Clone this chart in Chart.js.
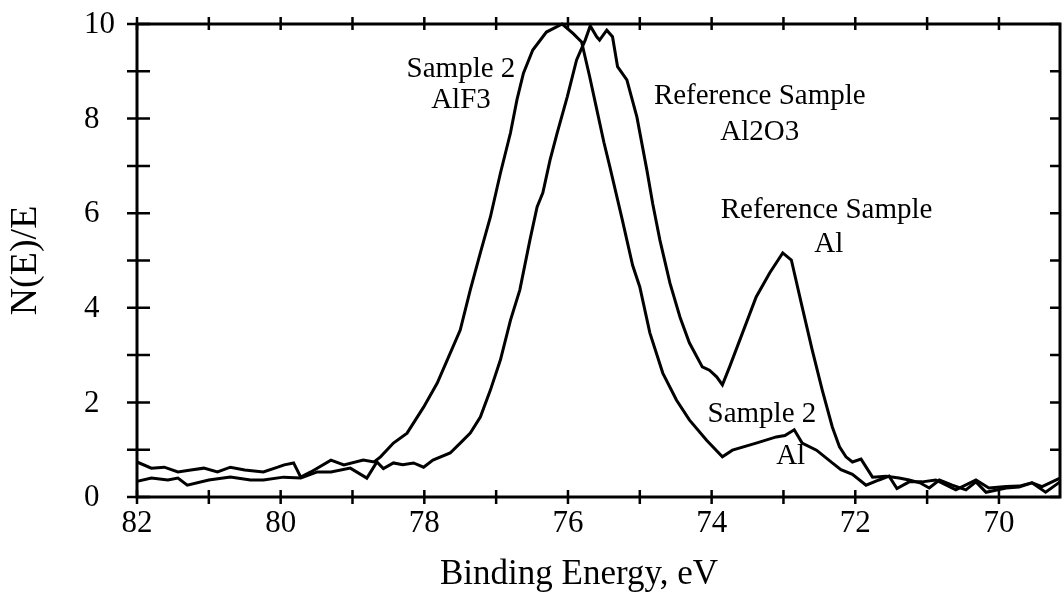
<!DOCTYPE html>
<html>
<head>
<meta charset="utf-8">
<script src="https://cdn.jsdelivr.net/npm/chart.js@4.4.1/dist/chart.umd.min.js"></script>
<style>
  html, body { margin: 0; padding: 0; background: #fff; }
  #wrap { width: 1064px; height: 596px; }
</style>
</head>
<body>
<div id="wrap"><canvas id="xpsChart" width="1064" height="596"></canvas></div>
<script>
// Sample 2 (AlF3 + small Al peak)
const s2Energy = [82.0, 81.8, 81.62, 81.43, 81.25, 81.07, 80.88, 80.7, 80.5, 80.24, 80.04, 79.95, 79.82, 79.72, 79.58,
  79.3, 79.12, 78.85, 78.7, 78.61, 78.43, 78.24, 78.01, 77.82, 77.68, 77.5, 77.36, 77.22, 77.08, 76.94, 76.8, 76.71,
  76.62, 76.49, 76.3, 76.08, 75.93, 75.81, 75.7, 75.6, 75.5, 75.42, 75.25, 75.1, 75.0, 74.86, 74.68, 74.49, 74.31,
  74.07, 73.85, 73.71, 73.38, 73.1, 72.98, 72.85, 72.74, 72.54, 72.32, 72.2, 72.04, 71.85, 71.67, 71.53, 71.42,
  71.25, 71.07, 70.88, 70.6, 70.32, 70.14, 69.9, 69.72, 69.54, 69.4, 69.15];
const s2Signal = [0.74, 0.61, 0.63, 0.53, 0.57, 0.61, 0.53, 0.63, 0.57, 0.53, 0.63, 0.68, 0.72, 0.42, 0.53,
  0.78, 0.68, 0.78, 0.74, 0.85, 1.14, 1.35, 1.9, 2.41, 2.9, 3.53, 4.38, 5.16, 5.92, 6.85, 7.7, 8.4,
  8.96, 9.45, 9.83, 10.0, 9.8, 9.62, 8.9, 8.2, 7.5, 7.0, 5.9, 4.9, 4.44, 3.47, 2.62, 2.05, 1.63,
  1.2, 0.85, 0.99, 1.14, 1.27, 1.3, 1.42, 1.14, 0.99, 0.72, 0.58, 0.48, 0.25, 0.36, 0.44, 0.18,
  0.32, 0.32, 0.36, 0.15, 0.36, 0.19, 0.22, 0.23, 0.3, 0.22, 0.4];

// Reference sample (Al2O3 + Al metal)
const refEnergy = [82.0, 81.8, 81.57, 81.43, 81.3, 81.0, 80.7, 80.42, 80.24, 79.96, 79.72, 79.49, 79.3, 79.03, 78.8,
  78.66, 78.57, 78.43, 78.3, 78.15, 78.01, 77.88, 77.64, 77.5, 77.36, 77.22, 77.08, 76.94, 76.8, 76.67, 76.53,
  76.43, 76.35, 76.25, 76.15, 76.01, 75.88, 75.76, 75.69, 75.6, 75.56, 75.46, 75.38, 75.31, 75.18, 75.04, 74.9,
  74.82, 74.72, 74.58, 74.44, 74.31, 74.13, 74.03, 73.93, 73.85, 73.75, 73.57, 73.38, 73.19, 73.01, 72.89, 72.74,
  72.6, 72.46, 72.32, 72.22, 72.13, 72.04, 71.92, 71.76, 71.57, 71.39, 71.25, 71.1, 70.97, 70.83, 70.65, 70.46,
  70.32, 70.18, 69.9, 69.72, 69.54, 69.35, 69.15];
const refSignal = [0.33, 0.4, 0.36, 0.4, 0.25, 0.36, 0.42, 0.36, 0.36, 0.42, 0.4, 0.53, 0.53, 0.61, 0.4,
  0.74, 0.6, 0.72, 0.68, 0.72, 0.63, 0.78, 0.93, 1.14, 1.35, 1.69, 2.26, 2.9, 3.74, 4.38, 5.43,
  6.13, 6.43, 7.12, 7.7, 8.46, 9.24, 9.66, 9.96, 9.73, 9.66, 9.87, 9.73, 9.1, 8.82, 8.03, 6.9,
  6.2, 5.43, 4.52, 3.8, 3.26, 2.75, 2.68, 2.54, 2.37, 2.75, 3.47, 4.23, 4.74, 5.16, 5.01, 4.02,
  3.11, 2.26, 1.48, 1.06, 0.85, 0.74, 0.8, 0.42, 0.44, 0.4, 0.36, 0.3, 0.19, 0.36, 0.25, 0.15,
  0.32, 0.1, 0.19, 0.21, 0.3, 0.1, 0.32];

const xTickLabels = ['82', '80', '78', '76', '74', '72', '70'];
const yTickLabels = ['0', '2', '4', '6', '8', '10'];

// text labels on the plot, placed in data units (eV, N(E)/E)
const notes = [
  { text: 'Sample 2', at: [77.49, 9.05] },
  { text: 'AlF3', at: [77.49, 8.39] },
  { text: 'Reference Sample', at: [73.33, 8.46] },
  { text: 'Al2O3', at: [73.33, 7.7] },
  { text: 'Reference Sample', at: [72.4, 6.05] },
  { text: 'Al', at: [72.37, 5.35] },
  { text: 'Sample 2', at: [73.3, 1.75] },
  { text: 'Al', at: [72.9, 0.85] }
];

const SERIF = '"Liberation Serif", "Times New Roman", serif';

function toPoints(xs, ys) {
  return xs.map((x, i) => ({ x: x, y: ys[i] }));
}

// frame, crossing ticks, y labels, x title and notes
const framePlugin = {
  id: 'framePlugin',
  afterDraw(chart) {
    const ctx = chart.ctx;
    const a = chart.chartArea;
    const xs = chart.scales.x, ys = chart.scales.y;
    ctx.save();
    ctx.strokeStyle = '#000';
    ctx.fillStyle = '#000';

    ctx.lineWidth = 3;
    ctx.strokeRect(a.left, a.top, a.right - a.left, a.bottom - a.top);

    ctx.lineWidth = 2.5;
    ctx.beginPath();
    xs.ticks.forEach(t => {
      const px = xs.getPixelForValue(t.value);
      ctx.moveTo(px, a.bottom - 7); ctx.lineTo(px, a.bottom + 7);
      ctx.moveTo(px, a.top - 7); ctx.lineTo(px, a.top + 6);
    });
    ys.ticks.forEach(t => {
      const py = ys.getPixelForValue(t.value);
      ctx.moveTo(a.left - 10, py); ctx.lineTo(a.left + 13, py);
      ctx.moveTo(a.right - 10, py); ctx.lineTo(a.right, py);
    });
    ctx.stroke();

    // y tick labels, left aligned as in the original
    ctx.font = '31px ' + SERIF;
    ctx.textAlign = 'left';
    ctx.textBaseline = 'middle';
    ys.ticks.forEach(t => {
      if (yTickLabels.includes(String(t.value))) {
        ctx.fillText(String(t.value), a.left - 53, ys.getPixelForValue(t.value) + 1);
      }
    });

    // x axis title
    ctx.font = '35px ' + SERIF;
    ctx.textAlign = 'center';
    ctx.textBaseline = 'alphabetic';
    ctx.fillText('Binding Energy, eV', a.left + 442, 584);

    // notes
    ctx.font = '29px ' + SERIF;
    ctx.textBaseline = 'middle';
    notes.forEach(n => {
      ctx.fillText(n.text, xs.getPixelForValue(n.at[0]), ys.getPixelForValue(n.at[1]));
    });
    ctx.restore();
  }
};

const ctx = document.getElementById('xpsChart').getContext('2d');
const chart = new Chart(ctx, {
  type: 'scatter',
  data: {
    datasets: [
      {
        label: 'Sample 2',
        data: toPoints(s2Energy, s2Signal),
        showLine: true,
        borderColor: '#000',
        borderWidth: 3,
        pointRadius: 0,
        tension: 0,
        clip: false
      },
      {
        label: 'Reference Sample',
        data: toPoints(refEnergy, refSignal),
        showLine: true,
        borderColor: '#000',
        borderWidth: 3,
        pointRadius: 0,
        tension: 0,
        clip: false
      }
    ]
  },
  options: {
    responsive: false,
    animation: false,
    layout: { padding: { top: 24, right: 4, left: 0, bottom: 0 } },
    plugins: { legend: { display: false }, tooltip: { enabled: false } },
    scales: {
      x: {
        type: 'linear',
        reverse: true,
        min: 69.15,
        max: 82,
        grid: { display: false, drawTicks: false },
        border: { display: false },
        ticks: {
          stepSize: 1,
          includeBounds: false,
          autoSkip: false,
          maxRotation: 0,
          padding: 8,
          color: '#000',
          font: { family: SERIF, size: 31 },
          callback: v => xTickLabels.includes(String(v)) ? String(v) : ''
        },
        afterFit: s => { s.height = 99; }
      },
      y: {
        min: 0,
        max: 10,
        grid: { display: false, drawTicks: false },
        border: { display: false },
        ticks: { stepSize: 1, display: false },
        title: {
          display: true,
          text: 'N(E)/E',
          color: '#000',
          font: { family: SERIF, size: 38 },
          padding: { top: 3, bottom: 0 }
        },
        afterFit: s => { s.width = 137; }
      }
    }
  },
  plugins: [framePlugin]
});
</script>
</body>
</html>
